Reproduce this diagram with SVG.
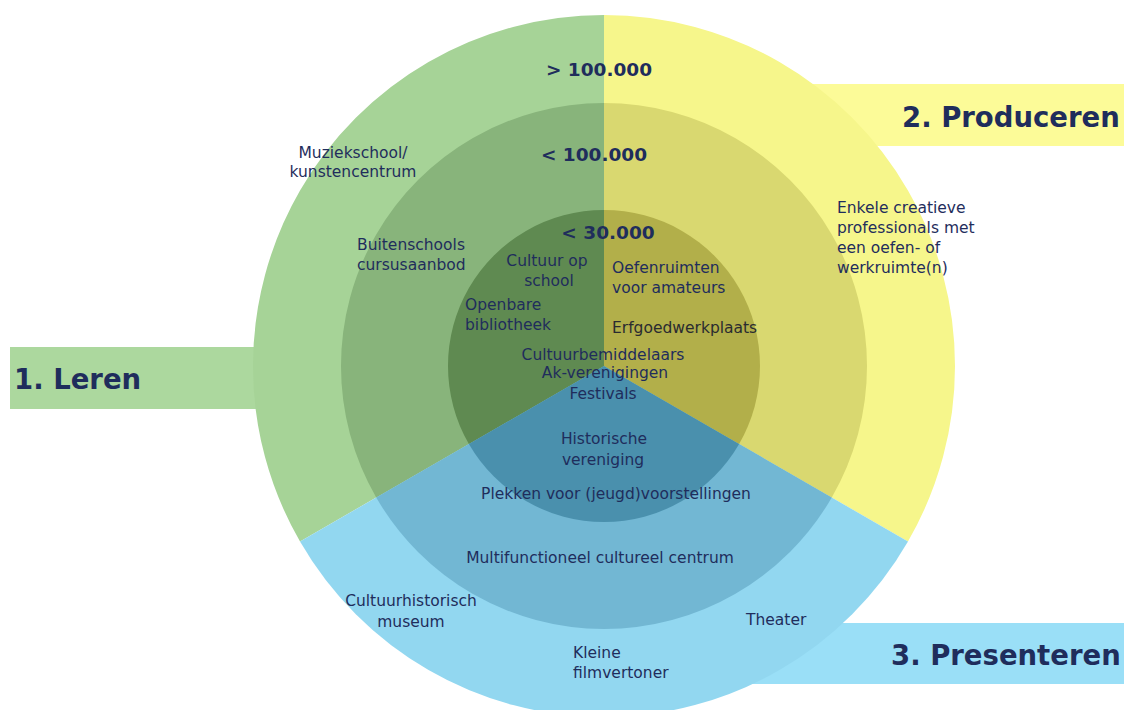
<svg xmlns="http://www.w3.org/2000/svg" width="1124" height="710" viewBox="0 0 1124 710">
<style>
.t{font-family:"DejaVu Sans",Verdana,sans-serif;font-size:15.5px;fill:#1f2d5c}
.c{text-anchor:middle}
.b{font-family:"DejaVu Sans",Verdana,sans-serif;font-weight:bold;font-size:18.5px;fill:#1f2d5c}
.h{font-family:"DejaVu Sans",Verdana,sans-serif;font-weight:bold;font-size:27.5px;fill:#1f2d5c}
</style>
<rect width="1124" height="710" fill="#ffffff"/>
<g id="label-leren"><rect x="10" y="347" width="400" height="62" fill="#acd89e"/><text class="h" x="14" y="389">1. Leren</text></g>
<g id="label-produceren"><rect x="720" y="84" width="404" height="62" fill="#fcfb98"/><text class="h" x="902" y="127">2. Produceren</text></g>
<g id="label-presenteren"><rect x="600" y="623" width="524" height="61" fill="#9adff7"/><text class="h" x="891" y="665">3. Presenteren</text></g>
<g id="rings">
<path d="M604,366 L300.02,541.5 A351,351 0 0 1 604,15 Z" fill="#a6d397"/>
<path d="M604,366 L604,15 A351,351 0 0 1 907.98,541.5 Z" fill="#f6f68b"/>
<path d="M604,366 L907.98,541.5 A351,351 0 0 1 300.02,541.5 Z" fill="#92d7f0"/>
<path d="M604,366 L376.23,497.5 A263,263 0 0 1 604,103 Z" fill="#88b47b"/>
<path d="M604,366 L604,103 A263,263 0 0 1 831.77,497.5 Z" fill="#d9d870"/>
<path d="M604,366 L831.77,497.5 A263,263 0 0 1 376.23,497.5 Z" fill="#72b7d3"/>
<path d="M604,366 L468.9,444 A156,156 0 0 1 604,210 Z" fill="#5f8a51"/>
<path d="M604,366 L604,210 A156,156 0 0 1 739.1,444 Z" fill="#b2af4a"/>
<path d="M604,366 L739.1,444 A156,156 0 0 1 468.9,444 Z" fill="#4a90ad"/>
</g>
<g id="connectors"></g>
<g id="levels">
<text class="b c" x="599" y="76">&gt; 100.000</text>
<text class="b c" x="594" y="161">&lt; 100.000</text>
<text class="b c" x="608" y="239">&lt; 30.000</text>
</g>
<g id="n-muziekschool"><text class="t c" x="353" y="158">Muziekschool/</text><text class="t c" x="353" y="177">kunstencentrum</text></g>
<g id="n-buitenschools"><text class="t" x="357" y="250">Buitenschools</text><text class="t" x="357" y="270">cursusaanbod</text></g>
<g id="n-cultuuropschool"><text class="t c" x="547" y="266">Cultuur op</text><text class="t c" x="549" y="286">school</text></g>
<g id="n-bibliotheek"><text class="t" x="465" y="310">Openbare</text><text class="t" x="465" y="330">bibliotheek</text></g>
<g id="n-oefenruimten"><text class="t" x="612" y="273">Oefenruimten</text><text class="t" x="612" y="293">voor amateurs</text></g>
<g id="n-erfgoed"><text class="t" x="612" y="333" style="fill:#2a2b30">Erfgoedwerkplaats</text></g>
<g id="n-center"><text class="t c" x="603" y="360">Cultuurbemiddelaars</text><text class="t c" x="605" y="378">Ak-verenigingen</text><text class="t c" x="603" y="399">Festivals</text></g>
<g id="n-historische"><text class="t c" x="604" y="444">Historische</text><text class="t c" x="603" y="465">vereniging</text></g>
<g id="n-plekken"><text class="t c" x="616" y="499">Plekken voor (jeugd)voorstellingen</text></g>
<g id="n-multi"><text class="t c" x="600" y="563">Multifunctioneel cultureel centrum</text></g>
<g id="n-museum"><text class="t c" x="411" y="606">Cultuurhistorisch</text><text class="t c" x="411" y="627">museum</text></g>
<g id="n-film"><text class="t" x="573" y="658">Kleine</text><text class="t" x="573" y="678">filmvertoner</text></g>
<g id="n-theater"><text class="t" x="746" y="625">Theater</text></g>
<g id="n-creatieve"><text class="t" x="837" y="213">Enkele creatieve</text><text class="t" x="837" y="233">professionals met</text><text class="t" x="837" y="253">een oefen- of</text><text class="t" x="837" y="273">werkruimte(n)</text></g>
</svg>
